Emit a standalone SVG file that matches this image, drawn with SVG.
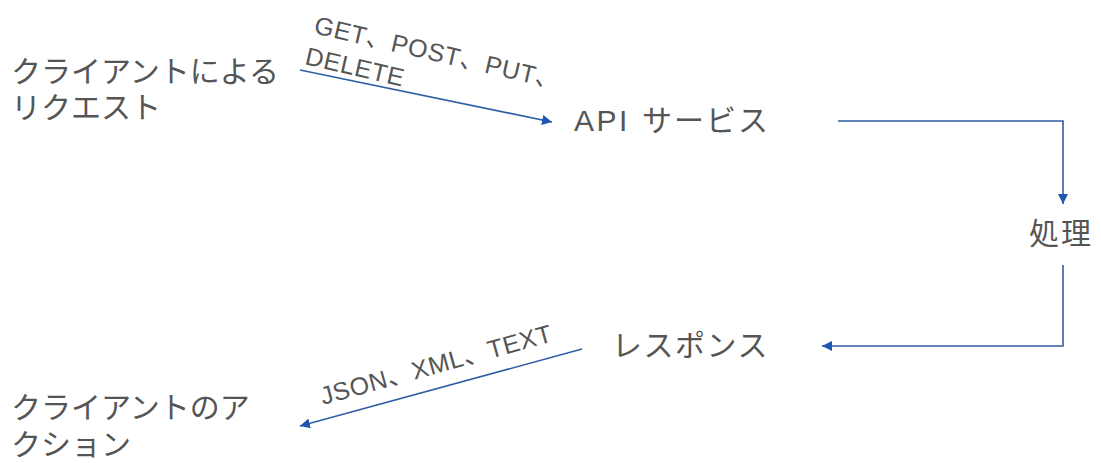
<svg xmlns="http://www.w3.org/2000/svg" width="1101" height="463" viewBox="0 0 1101 463">
<style>
.t{font-family:"Liberation Sans","Noto Sans CJK JP",sans-serif;fill:#555555;font-size:30px}
.s{font-family:"Liberation Sans","Noto Sans CJK JP",sans-serif;fill:#555555;font-size:25px;letter-spacing:0.6px}
.c{fill:none;stroke:#2F5FA3;stroke-width:1.6}
</style>
<defs>
<marker id="ah" viewBox="0 0 10 10" refX="10" refY="5" markerWidth="10" markerHeight="10" markerUnits="userSpaceOnUse" orient="auto">
<path d="M0,0 L10,5 L0,10 z" fill="#1F56B0"/>
</marker>
</defs>
<rect width="1101" height="463" fill="#ffffff"/>
<g id="n-request"><text class="t" x="11" y="82">クライアントによる</text><text class="t" x="11" y="118">リクエスト</text></g>
<g id="n-api"><text class="t" x="574" y="131"><tspan style="letter-spacing:2.5px">API</tspan> <tspan x="642" style="letter-spacing:2px">サービス</tspan></text></g>
<g id="n-proc"><text class="t" x="1029" y="244" style="letter-spacing:2px">処理</text></g>
<g id="n-resp"><text class="t" x="612" y="356" style="letter-spacing:1.5px">レスポンス</text></g>
<g id="n-action"><text class="t" x="11" y="418">クライアントのア</text><text class="t" x="11" y="455">クション</text></g>
<g id="connectors">
<path class="c" d="M300,70 L552,122" marker-end="url(#ah)"/>
<path class="c" d="M838,121 L1063,121 L1063,204" marker-end="url(#ah)"/>
<path class="c" d="M1063,265 L1063,346 L822,346" marker-end="url(#ah)"/>
<path class="c" d="M582,349 L300,426" marker-end="url(#ah)"/>
<text class="s" transform="translate(313,33) rotate(13)">GET、POST、PUT、</text>
<text class="s" transform="translate(304,64) rotate(13)">DELETE</text>
<text class="s" transform="translate(323,405) rotate(-15.5)">JSON、XML、TEXT</text>
</g>
</svg>
